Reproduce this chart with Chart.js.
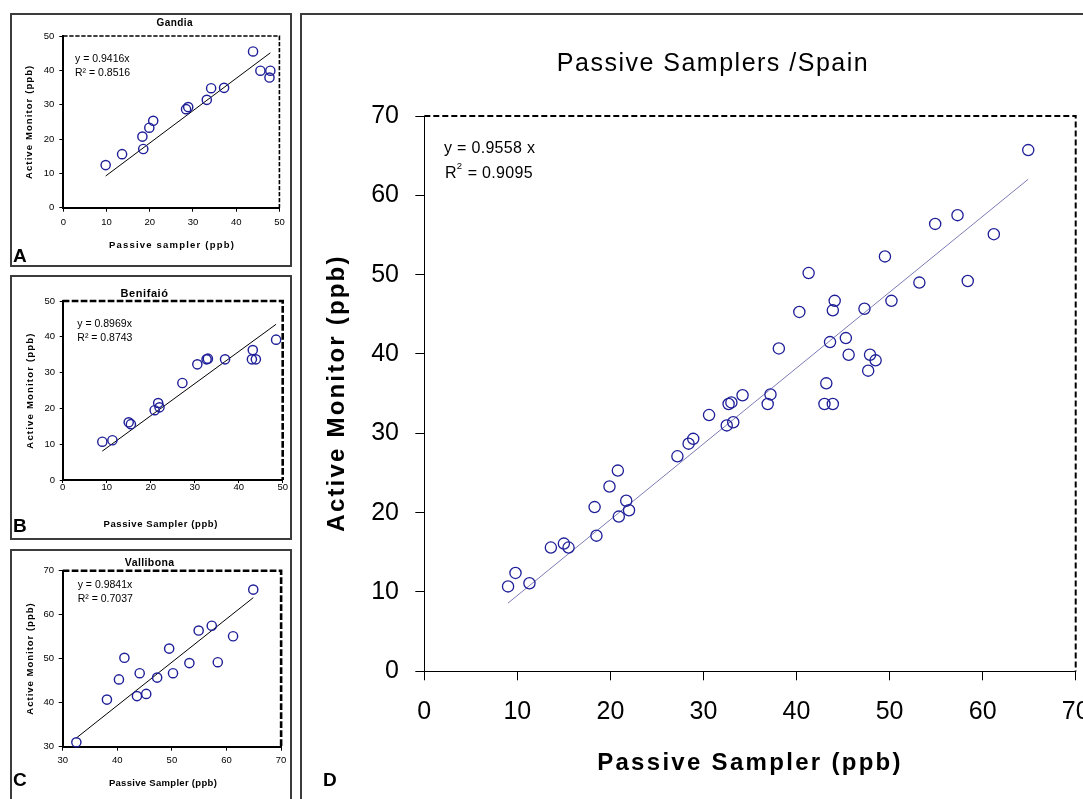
<!DOCTYPE html>
<html>
<head>
<meta charset="utf-8">
<title>Passive Samplers /Spain</title>
<script src="https://cdn.jsdelivr.net/npm/chart.js@4.4.1/dist/chart.umd.min.js"></script>
<style>
    html, body { margin: 0; padding: 0; width: 1083px; height: 799px; overflow: hidden; background: #fff; }
    .panel { position: absolute; border: 2px solid #3c3c3c; box-sizing: border-box; }
    canvas { position: absolute; }
</style>
</head>
<body>
<div class="panel" style="left:10px;top:13px;width:282px;height:254px;"></div>
<div class="panel" style="left:10px;top:275px;width:282px;height:265px;"></div>
<div class="panel" style="left:10px;top:549px;width:282px;height:270px;"></div>
<div class="panel" style="left:300px;top:13px;width:820px;height:820px;"></div>
<canvas id="chart-a"></canvas>
<canvas id="chart-b"></canvas>
<canvas id="chart-c"></canvas>
<canvas id="chart-d"></canvas>
<script>
// ── Site data: passive sampler vs active monitor (ppb) ──────────
const gandiaPassive = [9.8, 13.6, 18.3, 18.5, 19.9, 20.8, 28.4, 28.9, 33.2, 34.2, 37.2, 43.9, 45.6, 47.9, 47.7];
const gandiaActive  = [12.4, 15.6, 20.7, 17.1, 23.3, 25.3, 28.7, 29.3, 31.4, 34.8, 34.9, 45.5, 39.9, 39.9, 37.9];
const gandiaSlope = 0.9416;
const gandiaR2 = 0.8516;

const benifaioPassive = [9.0, 11.3, 15.0, 15.5, 20.9, 21.7, 22.0, 27.2, 30.6, 32.7, 33.0, 36.9, 43.0, 43.2, 43.9, 48.5];
const benifaioActive  = [10.7, 11.1, 16.1, 15.6, 19.5, 21.5, 20.3, 27.1, 32.3, 33.7, 33.9, 33.7, 33.7, 36.3, 33.7, 39.2];
const benifaioSlope = 0.8969;
const benifaioR2 = 0.8743;

const vallibonaPassive = [32.5, 38.1, 40.3, 41.3, 43.6, 44.1, 45.3, 47.3, 49.5, 50.2, 53.2, 54.9, 57.3, 58.4, 61.2, 64.9];
const vallibonaActive  = [31.0, 40.7, 45.3, 50.2, 41.5, 46.7, 42.0, 45.7, 52.3, 46.7, 49.0, 56.4, 57.5, 49.2, 55.1, 65.7];
const vallibonaSlope = 0.9841;
const vallibonaR2 = 0.7037;

// all three sites pooled
const spainPassive = [...gandiaPassive, ...benifaioPassive, ...vallibonaPassive];
const spainActive  = [...gandiaActive, ...benifaioActive, ...vallibonaActive];
const spainSlope = 0.9558;
const spainR2 = 0.9095;

// ── Tick labels ─────────────────────────────────────────────────
const ticks0to50 = [0, 10, 20, 30, 40, 50];
const ticks30to70 = [30, 40, 50, 60, 70];
const ticks0to70 = [0, 10, 20, 30, 40, 50, 60, 70];

(function () {
    'use strict';

    const FONT = "'Liberation Sans', Arial, Helvetica, sans-serif";
    const MARKER = '#1e1e98';

    function toPoints(xs, ys) {
        return xs.map((x, i) => ({ x, y: ys[i] }));
    }

    // regression through the origin, drawn over the data's x range
    function fitLine(xs, slope) {
        const lo = Math.min(...xs), hi = Math.max(...xs);
        return [{ x: lo, y: slope * lo }, { x: hi, y: slope * hi }];
    }

    function drawNotes(ctx, items, ox, oy) {
        items.forEach(it => {
            ctx.save();
            ctx.font = it.font;
            ctx.fillStyle = '#000';
            ctx.textAlign = it.align || 'left';
            ctx.textBaseline = it.rot ? 'middle' : 'alphabetic';
            if ('letterSpacing' in ctx) ctx.letterSpacing = (it.sp || 0) + 'px';
            ctx.translate(it.x - ox, it.y - oy);
            if (it.rot) ctx.rotate(-Math.PI / 2);
            ctx.fillText(it.t, 0, 0);
            ctx.restore();
        });
    }

    function scaleOpts(axis, p, min, max, tickValues) {
        const g = p.style;
        const fit = axis === 'x'
            ? (p.canvas.y + p.canvas.h) - p.area.b
            : p.area.l - p.canvas.x;
        return {
            type: 'linear',
            position: axis === 'x' ? 'bottom' : 'left',
            min, max,
            afterBuildTicks: s => { s.ticks = tickValues.map(v => ({ value: v })); },
            afterFit: s => { if (axis === 'x') s.height = fit; else s.width = fit; },
            border: { display: true, color: '#000', width: g.axisWidth },
            grid: {
                display: true, drawOnChartArea: false, drawTicks: true,
                tickLength: g.tickLen, tickColor: '#000', tickWidth: 1,
            },
            ticks: {
                color: '#000',
                padding: axis === 'x' ? g.xPad : g.yPad,
                font: { family: FONT, size: g.tickSize },
                autoSkip: false, maxRotation: 0,
            },
            title: { display: false },
        };
    }

    function makePanel(p) {
        const canvas = document.getElementById(p.id);
        canvas.width = p.canvas.w;
        canvas.height = p.canvas.h;
        canvas.style.left = p.canvas.x + 'px';
        canvas.style.top = p.canvas.y + 'px';
        const g = p.style;

        const framePlugin = {
            id: 'frame',
            afterDatasetsDraw(chart) {
                const { ctx, chartArea: a } = chart;
                ctx.save();
                ctx.strokeStyle = '#000';
                ctx.lineWidth = g.frameWidth;
                ctx.setLineDash(g.dash);
                ctx.beginPath();
                ctx.moveTo(a.left, a.top);
                ctx.lineTo(a.right, a.top);
                ctx.lineTo(a.right, a.bottom);
                ctx.stroke();
                ctx.restore();
            },
        };
        const notesPlugin = {
            id: 'notes',
            afterDraw(chart) { drawNotes(chart.ctx, p.notes, p.canvas.x, p.canvas.y); },
        };

        return new Chart(canvas, {
            type: 'scatter',
            data: {
                datasets: [
                    {
                        data: toPoints(p.xs, p.ys),
                        pointStyle: 'circle',
                        pointRadius: g.radius,
                        borderColor: MARKER,
                        backgroundColor: 'rgba(0,0,0,0)',
                        borderWidth: g.ptWidth,
                        clip: false,
                    },
                    {
                        data: fitLine(p.xs, p.slope),
                        showLine: true,
                        pointRadius: 0,
                        borderColor: g.lineColor,
                        borderWidth: 1,
                        fill: false,
                    },
                ],
            },
            options: {
                responsive: false,
                animation: false,
                events: [],
                layout: {
                    padding: {
                        left: 0,
                        top: p.area.t - p.canvas.y,
                        right: (p.canvas.x + p.canvas.w) - p.area.r,
                        bottom: 0,
                    },
                },
                plugins: { legend: { display: false }, tooltip: { enabled: false } },
                scales: {
                    x: scaleOpts('x', p, p.xRange[0], p.xRange[1], p.xTicks),
                    y: scaleOpts('y', p, p.yRange[0], p.yRange[1], p.yTicks),
                },
            },
            plugins: [framePlugin, notesPlugin],
        });
    }

    const small = (extra) => Object.assign({
        radius: 4.6, ptWidth: 1.4, lineColor: '#000', axisWidth: 2,
        frameWidth: 2.6, dash: [6.7, 2.3], tickLen: 4, tickSize: 9.5, xPad: 5.3, yPad: 5,
    }, extra);
    const eq = (s) => s.toFixed(4);
    const f = (w, size) => `${w} ${size}px ${FONT}`;

    // ── A: Gandia ───────────────────────────────────────────────
    makePanel({
        id: 'chart-a',
        canvas: { x: 12, y: 15, w: 278, h: 250 },
        area: { l: 63.3, t: 36, r: 281, b: 207.7 },
        xs: gandiaPassive, ys: gandiaActive, slope: gandiaSlope,
        xRange: [0, 50], yRange: [0, 50], xTicks: ticks0to50, yTicks: ticks0to50,
        style: small({ frameWidth: 1.6, dash: [4.3, 1.7] }),
        notes: [
            { t: 'Gandia', x: 174.7, y: 26, font: f('bold', 10), align: 'center', sp: 0.4 },
            { t: `y = ${eq(gandiaSlope)}x`, x: 75, y: 62.3, font: f('normal', 10.5) },
            { t: `R² = ${eq(gandiaR2)}`, x: 75, y: 76, font: f('normal', 10.5) },
            { t: 'Passive sampler (ppb)', x: 172, y: 248, font: f('bold', 9.5), align: 'center', sp: 1.2 },
            { t: 'Active Monitor (ppb)', x: 29.7, y: 121.8, font: f('bold', 9.5), align: 'center', sp: 1.1, rot: true },
            { t: 'A', x: 13, y: 261.7, font: f('bold', 19) },
        ],
    });

    // ── B: Benifaió ─────────────────────────────────────────────
    makePanel({
        id: 'chart-b',
        canvas: { x: 12, y: 277, w: 278, h: 260 },
        area: { l: 62.7, t: 301, r: 282.7, b: 480 },
        xs: benifaioPassive, ys: benifaioActive, slope: benifaioSlope,
        xRange: [0, 50], yRange: [0, 50], xTicks: ticks0to50, yTicks: ticks0to50,
        style: small({ tickLen: 3, xPad: -1.5, yPad: 4.7 }),
        notes: [
            { t: 'Benifaió', x: 144.5, y: 296.7, font: f('bold', 11), align: 'center', sp: 0.6 },
            { t: `y = ${eq(benifaioSlope)}x`, x: 77.3, y: 326.7, font: f('normal', 10.5) },
            { t: `R² = ${eq(benifaioR2)}`, x: 77.3, y: 341, font: f('normal', 10.5) },
            { t: 'Passive Sampler (ppb)', x: 160.7, y: 526.7, font: f('bold', 9.5), align: 'center', sp: 0.6 },
            { t: 'Active Monitor (ppb)', x: 30, y: 390.5, font: f('bold', 9.5), align: 'center', sp: 1.2, rot: true },
            { t: 'B', x: 13, y: 532, font: f('bold', 19) },
        ],
    });

    // ── C: Vallibona ────────────────────────────────────────────
    makePanel({
        id: 'chart-c',
        canvas: { x: 12, y: 551, w: 278, h: 248 },
        area: { l: 62.7, t: 570.7, r: 282.7, b: 746.7 },
        xs: vallibonaPassive, ys: vallibonaActive, slope: vallibonaSlope,
        xRange: [30, 70], yRange: [30, 70], xTicks: ticks30to70, yTicks: ticks30to70,
        style: small({ xPad: 3.6, yPad: 4.7 }),
        notes: [
            { t: 'Vallibona', x: 149.7, y: 565.7, font: f('bold', 10.5), align: 'center', sp: 0.4 },
            { t: `y = ${eq(vallibonaSlope)}x`, x: 77.7, y: 588.3, font: f('normal', 10.5) },
            { t: `R² = ${eq(vallibonaR2)}`, x: 77.7, y: 602.3, font: f('normal', 10.5) },
            { t: 'Passive Sampler (ppb)', x: 163, y: 786, font: f('bold', 9.5), align: 'center', sp: 0.3 },
            { t: 'Active Monitor (ppb)', x: 30, y: 658.5, font: f('bold', 9.5), align: 'center', sp: 1.0, rot: true },
            { t: 'C', x: 13, y: 786, font: f('bold', 19) },
        ],
    });

    // ── D: all sites ────────────────────────────────────────────
    makePanel({
        id: 'chart-d',
        canvas: { x: 302, y: 15, w: 818, h: 784 },
        area: { l: 424.3, t: 116, r: 1075.7, b: 671.3 },
        xs: spainPassive, ys: spainActive, slope: spainSlope,
        xRange: [0, 70], yRange: [0, 70], xTicks: ticks0to70, yTicks: ticks0to70,
        style: {
            radius: 5.6, ptWidth: 1.3, lineColor: '#7b7bb5', axisWidth: 1,
            frameWidth: 2, dash: [6, 3], tickLen: 9, tickSize: 25, xPad: 16.7, yPad: 16.3,
        },
        notes: [
            { t: 'Passive Samplers /Spain', x: 713, y: 70.7, font: f('normal', 25), align: 'center', sp: 1.5 },
            { t: `y = ${eq(spainSlope)} x`, x: 444, y: 153, font: f('normal', 16), sp: 0.3 },
            { t: 'R', x: 445, y: 178.3, font: f('normal', 16) },
            { t: '2', x: 456.7, y: 169.3, font: f('normal', 9.5) },
            { t: `= ${eq(spainR2)}`, x: 467.7, y: 178.3, font: f('normal', 16), sp: 0.3 },
            { t: 'Passive Sampler (ppb)', x: 750, y: 770, font: f('bold', 24), align: 'center', sp: 2.3 },
            { t: 'Active Monitor (ppb)', x: 337.5, y: 393, font: f('bold', 24), align: 'center', sp: 2.2, rot: true },
            { t: 'D', x: 323, y: 785.7, font: f('bold', 19) },
        ],
    });
})();
</script>
</body>
</html>
